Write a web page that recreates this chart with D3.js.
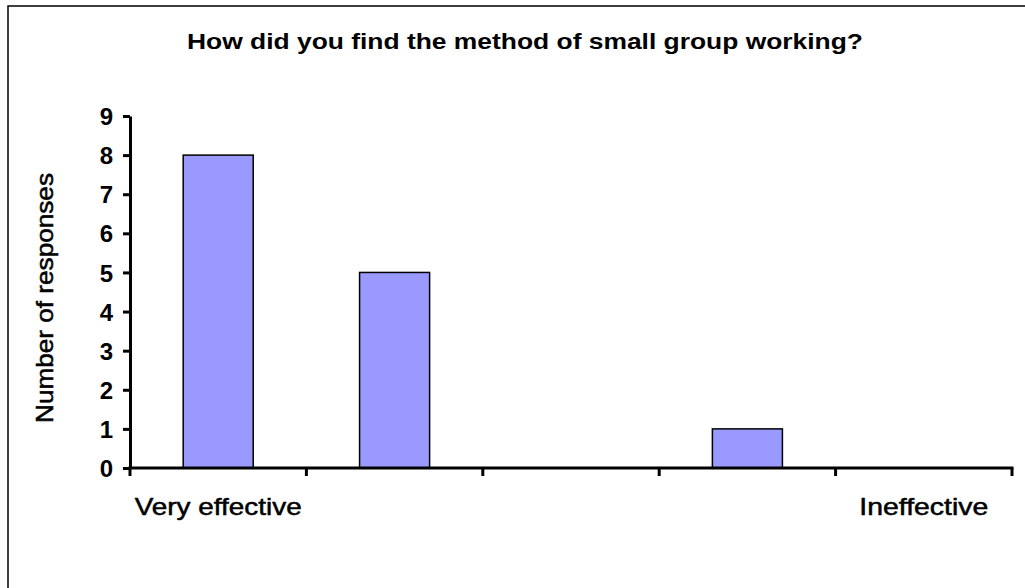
<!DOCTYPE html>
<html>
<head>
<meta charset="utf-8">
<script src="https://cdn.jsdelivr.net/npm/d3@7"></script>
<style>
  html, body { margin: 0; padding: 0; background: #fff; }
  svg { display: block; font-family: "Liberation Sans", Arial, sans-serif; }
</style>
</head>
<body>
<svg id="chart" width="1025" height="588"></svg>
<script>
// Survey responses on a five-point scale
const categories = ["1", "2", "3", "4", "5"];
const categoryLabels = ["Very effective", "", "", "", "Ineffective"];
const responses = [8, 5, 0, 1, 0];
const yTicks = [0, 1, 2, 3, 4, 5, 6, 7, 8, 9];
const titleText = "How did you find the method of small group working?";
const yLabelText = "Number of responses";

const svg = d3.select("#chart");

// Outer frame (left and top edges fall inside the view)
svg.append("rect")
  .attr("x", 8).attr("y", 6)
  .attr("width", 1100).attr("height", 700)
  .attr("fill", "#fff")
  .attr("stroke", "#000").attr("stroke-width", 1.5);

const plot = { left: 130, right: 1012, top: 116, bottom: 468 };

const x = d3.scaleBand()
  .domain(categories)
  .range([plot.left, plot.right])
  .padding(0);

const y = d3.scaleLinear()
  .domain([0, 9])
  .range([plot.bottom, plot.top]);

// Bars
const barW = x.bandwidth() * 0.397;
svg.append("g").selectAll("rect")
  .data(responses)
  .join("rect")
  .attr("x", (d, i) => x(categories[i]) + (x.bandwidth() - barW) / 2)
  .attr("y", d => y(d))
  .attr("width", barW)
  .attr("height", d => y(0) - y(d))
  .attr("fill", "#9999FF")
  .attr("stroke", "#000")
  .attr("stroke-width", 1.5)
  .attr("display", d => d > 0 ? null : "none");

// Y axis
const yAxis = svg.append("g")
  .attr("transform", `translate(${plot.left},0)`)
  .call(d3.axisLeft(y).tickValues(yTicks).tickSize(7).tickSizeOuter(0).tickPadding(10));
yAxis.select(".domain").attr("stroke-width", 3);
yAxis.selectAll(".tick line").attr("stroke-width", 3);
yAxis.selectAll(".tick text")
  .attr("font-size", 24).attr("font-weight", "bold")
  .attr("font-family", "Liberation Sans, Arial, sans-serif")
  .attr("fill", "#000")
  .attr("dy", "0.36em");

// X axis: ticks at band boundaries
const xAxisG = svg.append("g");
xAxisG.append("line")
  .attr("x1", plot.left - 1.5).attr("x2", plot.right + 1.5)
  .attr("y1", y(0)).attr("y2", y(0))
  .attr("stroke", "#000").attr("stroke-width", 3);
const boundaries = categories.map(c => x(c)).concat([x(categories[categories.length - 1]) + x.bandwidth()]);
xAxisG.selectAll("line.tick")
  .data(boundaries)
  .join("line")
  .attr("class", "tick")
  .attr("x1", d => d).attr("x2", d => d)
  .attr("y1", y(0)).attr("y2", y(0) + 8)
  .attr("stroke", "#000").attr("stroke-width", 3);

// Category labels centred under their bands
svg.append("g").selectAll("text")
  .data(categoryLabels.map((t, i) => ({ t, c: categories[i] })).filter(d => d.t))
  .join("text")
  .attr("x", d => x(d.c) + x.bandwidth() / 2)
  .attr("y", 515)
  .attr("text-anchor", "middle")
  .attr("font-size", 24)
  .attr("stroke", "#000").attr("stroke-width", 0.5)
  .attr("textLength", d => d.t === "Very effective" ? 167 : 129)
  .attr("lengthAdjust", "spacingAndGlyphs")
  .text(d => d.t);

// Title
svg.append("text")
  .attr("x", 525).attr("y", 49)
  .attr("text-anchor", "middle")
  .attr("font-size", 22).attr("font-weight", "bold")
  .attr("textLength", 676)
  .attr("lengthAdjust", "spacingAndGlyphs")
  .text(titleText);

// Y axis title
svg.append("text")
  .attr("transform", "translate(53,298) rotate(-90)")
  .attr("text-anchor", "middle")
  .attr("font-size", 24)
  .attr("stroke", "#000").attr("stroke-width", 0.5)
  .attr("textLength", 250)
  .attr("lengthAdjust", "spacingAndGlyphs")
  .text(yLabelText);
</script>
</body>
</html>
